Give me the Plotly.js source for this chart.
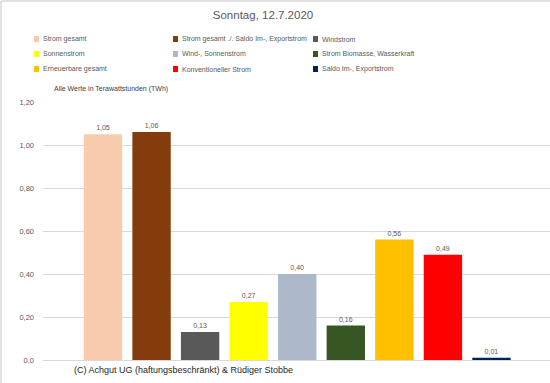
<!DOCTYPE html>
<html><head><meta charset="utf-8">
<script src="https://cdn.plot.ly/plotly-3.0.1.min.js"></script>
<style>html,body{margin:0;padding:0;background:#fff}#c{width:550px;height:383px}</style>
</head><body><div id="c"></div>
<script>
const seriesNames = ["Strom gesamt","Strom gesamt ./. Saldo Im-, Exportstrom","Windstrom","Sonnenstrom","Wind-, Sonnenstrom","Strom Biomasse, Wasserkraft","Erneuerbare gesamt","Konventioneller Strom","Saldo Im-, Exportstrom"];
const seriesValues = [1.05,1.06,0.13,0.27,0.40,0.16,0.56,0.49,0.01];
const seriesColors = ["#F8CBAD","#843C0C","#595959","#FFFF00","#ADB9CA","#375623","#FFC000","#FF0000","#002060"];
const tickVals = [0,0.2,0.4,0.6,0.8,1.0,1.2];
const tickLabels = ["0,0","0,20","0,40","0,60","0,80","1,00","1,20"];
const titleText = "Sonntag, 12.7.2020";
const unitNote = "Alle Werte in Terawattstunden (TWh)";
const copyright = "(C) Achgut UG (haftungsbeschränkt) & Rüdiger Stobbe";

const W=550,H=383,L=43,R=0,T=102,B=23;
const pw=W-L-R, ph=H-T-B;
const px=x=>(x-L)/pw, py=y=>(H-B-y)/ph;
const FONT="Liberation Sans, Arial, sans-serif";
const GREY="#595959";

const traces = seriesNames.map((n,i)=>({
  type:"bar", name:n, x:[n], y:[seriesValues[i]],
  marker:{color:seriesColors[i]}, width:0.79,
  text:[seriesValues[i]], texttemplate:"%{y:.2f}", textposition:"outside",
  textfont:{size:7,color:GREY,family:FONT}, cliponaxis:false,
  showlegend:false, hoverinfo:"none"
}));

const annotations=[], shapes=[];
const colText=[41,180,320], colSq=[34,173,313], rowY=[39,54,69];
seriesNames.forEach((n,i)=>{
  const c=i%3,r=Math.floor(i/3);
  annotations.push({xref:"paper",yref:"paper",x:px(colText[c]),y:py(rowY[r]),xanchor:"left",yanchor:"middle",
    text:n,showarrow:false,font:{size:7,color:GREY,family:FONT}});
  shapes.push({type:"rect",xref:"paper",yref:"paper",x0:px(colSq[c]),x1:px(colSq[c]+5),y0:py(rowY[r]-3),y1:py(rowY[r]+3),
    fillcolor:seriesColors[i],line:{width:0}});
});
annotations.push({xref:"paper",yref:"paper",x:px(52),y:py(89),xanchor:"left",yanchor:"middle",text:unitNote,showarrow:false,font:{size:7,color:"#404040",family:FONT}});
annotations.push({xref:"paper",yref:"paper",x:px(72),y:py(370),xanchor:"left",yanchor:"middle",text:copyright,showarrow:false,font:{size:9,color:"#262626",family:FONT}});
shapes.push({type:"line",xref:"paper",yref:"paper",x0:px(1),x1:px(1),y0:py(1),y1:py(383),line:{color:"#D9D9D9",width:1.5}});
shapes.push({type:"line",xref:"paper",yref:"paper",x0:px(1),x1:px(550),y0:py(1),y1:py(1),line:{color:"#D9D9D9",width:1.5}});

const layout={
  width:W,height:H,margin:{l:L,r:R,t:T,b:B},separators:",.",
  paper_bgcolor:"#fff",plot_bgcolor:"#fff",
  title:{text:titleText,x:263/W,xanchor:"center",y:1-15/H,yanchor:"middle",font:{size:11.5,color:GREY,family:FONT}},
  barmode:"overlay",
  xaxis:{type:"category",categoryorder:"array",categoryarray:seriesNames,range:[(43-103)/48.56,(550-103)/48.56],
    showticklabels:false,showgrid:false,zeroline:false,showline:false,ticks:"",fixedrange:true},
  yaxis:{range:[0,1.2],tickvals:tickVals,ticktext:tickLabels,showgrid:true,gridcolor:"#D9D9D9",gridwidth:1,
    zeroline:true,zerolinecolor:"#D9D9D9",zerolinewidth:1,showline:false,ticks:"",ticklabelstandoff:8,
    tickfont:{size:7.5,color:GREY,family:FONT},automargin:false,fixedrange:true},
  annotations:annotations,shapes:shapes,showlegend:false
};
Plotly.newPlot("c",traces,layout,{staticPlot:true,displayModeBar:false});
</script></body></html>
